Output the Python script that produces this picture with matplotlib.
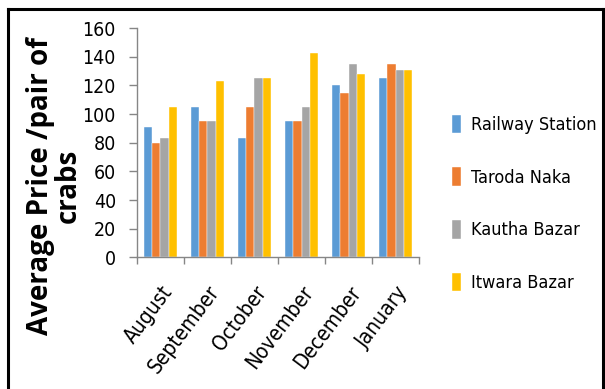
import numpy as np
import matplotlib.pyplot as plt
import matplotlib.transforms as mtransforms
from matplotlib.lines import Line2D
from matplotlib.font_manager import FontProperties

# average price per pair of crabs at each market
months = ['August', 'September', 'October', 'November', 'December', 'January']
markets = ['Railway Station', 'Taroda Naka', 'Kautha Bazar', 'Itwara Bazar']
railway_station = [91, 105, 83, 95, 120, 125]
taroda_naka = [80, 95, 105, 95, 115, 135]
kautha_bazar = [83, 95, 125, 105, 135, 131]
itwara_bazar = [105, 123, 125, 143, 128, 131]
colors = ['#5B9BD5', '#ED7D31', '#A5A5A5', '#FFC000']


def narrow(size):
    return FontProperties(family='DejaVu Sans', stretch='condensed', size=size)


fig = plt.figure(figsize=(6.05, 3.89), dpi=100)
ax = fig.add_axes([0.226, 0.3386, 0.467, 0.589])

x = np.arange(len(months))
w = 0.177
series = [railway_station, taroda_naka, kautha_bazar, itwara_bazar]
for i, vals in enumerate(series):
    ax.bar(x + (i - 1.5) * w, vals, w, color=colors[i], label=markets[i],
           edgecolor='white', linewidth=0.3)

ax.set_xlim(-0.5, len(months) - 0.5)
ax.set_ylim(0, 160)
ax.set_yticks(range(0, 161, 20))
ax.set_xticks(x)
ax.set_xticklabels(months, rotation=53, ha='right', rotation_mode='anchor',
                   fontproperties=narrow(15))
# nudge the slanted month names a little to the left
shift = mtransforms.ScaledTranslation(-4 / 72, 0, fig.dpi_scale_trans)
for lab in ax.get_xticklabels():
    lab.set_transform(lab.get_transform() + shift)
for lab in ax.get_yticklabels():
    lab.set_fontproperties(narrow(14))

# category separators on the x axis instead of centred ticks
ax.set_xticks(np.arange(len(months) + 1) - 0.5, minor=True)
ax.tick_params(axis='x', which='major', length=0, pad=18)
ax.tick_params(axis='x', which='minor', length=5, color='#868686', width=1)
ax.tick_params(axis='y', length=6, color='#868686', width=1, pad=9)

for s in ['top', 'right']:
    ax.spines[s].set_visible(False)
for s in ['left', 'bottom']:
    ax.spines[s].set_color('#868686')
    ax.spines[s].set_linewidth(1)

ax.set_ylabel('Average Price /pair of\ncrabs', fontsize=20, fontweight='bold',
              family='Open Sans', linespacing=0.95)
ax.yaxis.set_label_coords(-0.19, 0.31)

ax.legend(loc='center left', bbox_to_anchor=(1.06, 0.235), frameon=False,
          prop=narrow(13), handlelength=0.5, handleheight=1.2,
          handletextpad=0.5, labelspacing=1.85)

# black frame round the figure
for xs, ys in [([0.013, 0.013], [0.977, 0.0]),
               ([0.013, 0.996], [0.977, 0.977]),
               ([0.996, 0.996], [0.977, 0.0])]:
    fig.add_artist(Line2D(xs, ys, color='black', linewidth=2.2,
                          transform=fig.transFigure))

fig.savefig('out.png', dpi=100)
